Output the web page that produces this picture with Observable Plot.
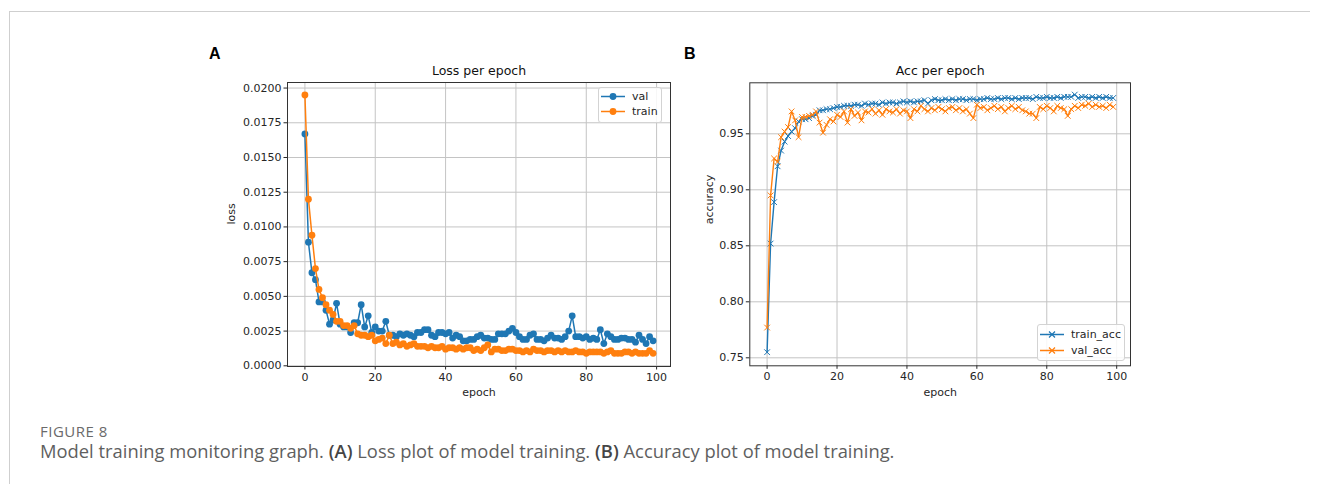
<!DOCTYPE html>
<html><head><meta charset="utf-8">
<script src="https://cdn.jsdelivr.net/npm/d3@7"></script>
<script src="https://cdn.jsdelivr.net/npm/@observablehq/plot@0.6"></script>
<style>
body{margin:0;background:#fff;}
#root{position:relative;width:1322px;height:484px;overflow:hidden;background:#fff;}
.abs{position:absolute;}
.letter{font-family:"Liberation Sans",Arial,sans-serif;font-weight:bold;font-size:16px;color:#000;}
.legend{position:absolute;border:1px solid #d3d3d3;border-radius:3px;background:rgba(255,255,255,0.85);box-sizing:border-box;}
.legend svg{position:absolute;left:0;top:0;}
.figlabel{font-family:"Open Sans",Lato,sans-serif;font-size:15px;color:#6a6a6a;letter-spacing:0.5px;white-space:nowrap;}
.caption{font-family:"Open Sans",Lato,sans-serif;font-size:18px;color:#5f5f5f;white-space:nowrap;transform:scaleX(1.02);transform-origin:left top;}
.caption b{color:#454545;font-weight:600;}
</style></head><body><div id="root"></div>
<script>
// ---------- data ----------
const epochs = d3.range(100);
const valLoss = [
 0.0167,0.0089,0.0067,0.0062,0.0046,0.0046,0.0040,0.0030,0.0033,0.0045,
 0.0030,0.0028,0.0028,0.0024,0.0031,0.0031,0.0044,0.0028,0.0036,0.0024,
 0.0028,0.0025,0.0025,0.0032,0.0022,0.0022,0.0021,0.0023,0.0022,0.0023,
 0.0022,0.0021,0.0024,0.0024,0.0026,0.0026,0.0022,0.0021,0.0024,0.0024,
 0.0023,0.0024,0.0020,0.0022,0.0021,0.0018,0.0018,0.0019,0.0019,0.0021,
 0.0022,0.0020,0.0020,0.0019,0.0019,0.0023,0.0023,0.0023,0.0025,0.0027,
 0.0024,0.0021,0.0019,0.0019,0.0022,0.0023,0.0019,0.0019,0.0018,0.0020,
 0.0022,0.0020,0.0020,0.0019,0.0021,0.0025,0.0036,0.0021,0.0021,0.0020,
 0.0021,0.0019,0.0020,0.0019,0.0026,0.0016,0.0023,0.0021,0.0019,0.0019,
 0.0020,0.0020,0.0019,0.0019,0.0017,0.0022,0.0019,0.0016,0.0021,0.0018];
const trainLoss = [
 0.0195,0.0120,0.0094,0.0070,0.0055,0.0049,0.0044,0.0040,0.0037,0.0032,
 0.0032,0.0029,0.0029,0.0027,0.0029,0.0023,0.0022,0.0022,0.0021,0.0022,
 0.0018,0.0019,0.0020,0.0016,0.0022,0.0016,0.0017,0.0015,0.0016,0.0014,
 0.0015,0.0016,0.0014,0.0014,0.0014,0.0013,0.0014,0.0013,0.0013,0.0014,
 0.0012,0.0013,0.0013,0.0012,0.0013,0.0012,0.0013,0.0013,0.0011,0.0012,
 0.0011,0.0013,0.0015,0.0010,0.0012,0.0012,0.0011,0.0011,0.0012,0.0012,
 0.0011,0.0011,0.0010,0.0011,0.0010,0.0012,0.0011,0.0011,0.0010,0.0011,
 0.0011,0.0010,0.0011,0.0010,0.0011,0.0010,0.0010,0.0011,0.0010,0.0010,
 0.0009,0.0010,0.0010,0.0010,0.0010,0.0009,0.0010,0.0011,0.0009,0.0009,
 0.0009,0.0010,0.0010,0.0009,0.0010,0.0009,0.0009,0.0009,0.0011,0.0009];
const trainAcc = [
 0.755,0.852,0.889,0.921,0.935,0.943,0.948,0.952,0.955,0.961,
 0.963,0.963,0.964,0.966,0.967,0.971,0.971,0.972,0.972,0.973,
 0.974,0.974,0.975,0.975,0.975,0.976,0.976,0.975,0.977,0.976,
 0.977,0.977,0.976,0.978,0.977,0.978,0.978,0.977,0.978,0.979,
 0.978,0.979,0.978,0.979,0.979,0.980,0.977,0.980,0.981,0.980,
 0.980,0.981,0.980,0.981,0.980,0.981,0.981,0.980,0.981,0.981,
 0.980,0.981,0.981,0.982,0.981,0.981,0.982,0.981,0.982,0.982,
 0.981,0.982,0.981,0.982,0.982,0.982,0.981,0.983,0.982,0.982,
 0.983,0.982,0.982,0.983,0.982,0.983,0.983,0.983,0.985,0.982,
 0.983,0.983,0.982,0.983,0.982,0.983,0.982,0.983,0.982,0.982];
const valAcc = [
 0.777,0.895,0.928,0.925,0.947,0.952,0.956,0.970,0.962,0.947,
 0.965,0.965,0.966,0.967,0.970,0.960,0.951,0.958,0.963,0.961,
 0.967,0.965,0.970,0.960,0.972,0.966,0.969,0.962,0.970,0.969,
 0.972,0.968,0.971,0.967,0.972,0.970,0.969,0.972,0.968,0.971,
 0.970,0.964,0.972,0.970,0.975,0.972,0.970,0.973,0.971,0.974,
 0.972,0.970,0.973,0.974,0.971,0.973,0.970,0.972,0.968,0.964,
 0.976,0.973,0.974,0.971,0.973,0.975,0.972,0.974,0.970,0.973,
 0.975,0.972,0.974,0.971,0.970,0.968,0.968,0.964,0.974,0.972,
 0.975,0.973,0.970,0.975,0.973,0.972,0.966,0.972,0.975,0.973,
 0.976,0.975,0.977,0.974,0.976,0.974,0.975,0.973,0.976,0.974];
const xTicks = [0,20,40,60,80,100];
const lossTicks = [0,0.0025,0.005,0.0075,0.01,0.0125,0.015,0.0175,0.02];
const accTicks = [0.75,0.80,0.85,0.90,0.95];
const lossSeries = ["val","train"];
const accSeries = ["train_acc","val_acc"];
const titles = ["Loss per epoch","Acc per epoch"];

// ---------- styles ----------
const BLUE = "#1f77b4", ORANGE = "#ff7f0e";
const GRID = "#c4c4c4", INK = "#262626";
const lossRows = epochs.map(i => ({epoch:i, val:valLoss[i], train:trainLoss[i]}));
const accRows = epochs.map(i => ({epoch:i, train_acc:trainAcc[i], val_acc:valAcc[i]}));

const root = document.getElementById("root");
const plotStyle = {fontFamily:"DejaVu Sans", fontSize:"11px", color:INK, background:"transparent", overflow:"visible"};

function common(xLabel, yLabel, yTicks, yFmt, title, labelDx){
  return [
    Plot.gridX(xTicks, {stroke:GRID, strokeOpacity:1, strokeWidth:1}),
    Plot.gridY(yTicks, {stroke:GRID, strokeOpacity:1, strokeWidth:1}),
    Plot.axisX(xTicks, {tickSize:3.5, tickPadding:3, label:null, stroke:INK, fill:INK}),
    Plot.axisY(yTicks, {tickSize:3.5, tickPadding:2.5, tickFormat:yFmt, label:null, stroke:INK, fill:INK}),
    Plot.text([xLabel], {frameAnchor:"bottom", lineAnchor:"middle", dy:26.3, text:d=>d, fill:INK, fontSize:11}),
    Plot.text([yLabel], {frameAnchor:"left", lineAnchor:"middle", dx:labelDx, rotate:-90, text:d=>d, fill:INK, fontSize:11}),
    Plot.text([title], {frameAnchor:"top", lineAnchor:"middle", dy:-11.5, text:d=>d, fill:"#111", fontSize:12.5})
  ];
}

const plotA = Plot.plot({
  width:480, height:345, marginLeft:87, marginRight:10, marginTop:22, marginBottom:39,
  style:plotStyle,
  x:{domain:[-4.95,103.95]},
  y:{domain:[-0.00005,0.0204]},
  marks:[
    ...common("epoch","loss",lossTicks,d3.format(".4f"),titles[0],-56),
    Plot.line(lossRows,{x:"epoch",y:lossSeries[0],stroke:BLUE,strokeWidth:1.5}),
    Plot.dot(lossRows,{x:"epoch",y:lossSeries[0],r:3.4,fill:BLUE,stroke:null}),
    Plot.line(lossRows,{x:"epoch",y:lossSeries[1],stroke:ORANGE,strokeWidth:1.5}),
    Plot.dot(lossRows,{x:"epoch",y:lossSeries[1],r:3.4,fill:ORANGE,stroke:null}),
    Plot.frame({stroke:"#333",strokeWidth:1})
  ]
});
plotA.style.position="absolute"; plotA.style.left="200px"; plotA.style.top="60px";
root.appendChild(plotA);

const plotB = Plot.plot({
  width:460, height:345, marginLeft:69.3, marginRight:10, marginTop:22.3, marginBottom:39.7,
  style:plotStyle,
  x:{domain:[-4.95,103.95]},
  y:{domain:[0.74286,0.99554]},
  marks:[
    ...common("epoch","accuracy",accTicks,d3.format(".2f"),titles[1],-40),
    Plot.line(accRows,{x:"epoch",y:accSeries[0],stroke:BLUE,strokeWidth:1.4}),
    Plot.dot(accRows,{x:"epoch",y:accSeries[0],r:2.7,symbol:"times",stroke:BLUE,strokeWidth:1}),
    Plot.line(accRows,{x:"epoch",y:accSeries[1],stroke:ORANGE,strokeWidth:1.4}),
    Plot.dot(accRows,{x:"epoch",y:accSeries[1],r:2.7,symbol:"times",stroke:ORANGE,strokeWidth:1}),
    Plot.frame({stroke:"#333",strokeWidth:1})
  ]
});
plotB.style.position="absolute"; plotB.style.left="680px"; plotB.style.top="60px";
root.appendChild(plotB);

// ---------- legends ----------
function legend(left, topPx, w, h, names, colors, marker, rowY){
  const div = document.createElement("div");
  div.className = "legend";
  Object.assign(div.style,{left:left+"px",top:topPx+"px",width:w+"px",height:h+"px"});
  const ns="http://www.w3.org/2000/svg";
  const svg=document.createElementNS(ns,"svg");
  svg.setAttribute("width",w); svg.setAttribute("height",h);
  names.forEach((n,i)=>{
    const y=rowY[i];
    const ln=document.createElementNS(ns,"line");
    ln.setAttribute("x1",2);ln.setAttribute("x2",26);ln.setAttribute("y1",y);ln.setAttribute("y2",y);
    ln.setAttribute("stroke",colors[i]);ln.setAttribute("stroke-width",1.5);svg.appendChild(ln);
    if(marker==="circle"){
      const c=document.createElementNS(ns,"circle");
      c.setAttribute("cx",14);c.setAttribute("cy",y);c.setAttribute("r",3.4);c.setAttribute("fill",colors[i]);svg.appendChild(c);
    } else {
      const p=document.createElementNS(ns,"path");
      p.setAttribute("d",`M${11},${y-3}L${17},${y+3}M${11},${y+3}L${17},${y-3}`);
      p.setAttribute("stroke",colors[i]);p.setAttribute("stroke-width",1.2);svg.appendChild(p);
    }
    const t=document.createElementNS(ns,"text");
    t.setAttribute("x",33);t.setAttribute("y",y);t.setAttribute("dy","0.35em");
    t.setAttribute("font-family","DejaVu Sans");t.setAttribute("font-size","11");t.setAttribute("fill",INK);
    t.textContent=n;svg.appendChild(t);
  });
  div.appendChild(svg);
  root.appendChild(div);
}
legend(598,87,64,36,lossSeries,[BLUE,ORANGE],"circle",[8.5,23.5]);
legend(1037,324,88,37,accSeries,[BLUE,ORANGE],"times",[9.5,25.5]);

// ---------- texts ----------
function addHTML(cls, left, topPx, html){
  const d=document.createElement("div"); d.className="abs "+cls;
  d.style.left=left+"px"; d.style.top=topPx+"px"; d.innerHTML=html; root.appendChild(d); return d;
}
addHTML("letter",209,45,"A");
addHTML("letter",684,45,"B");
addHTML("figlabel",40,421,"FIGURE 8");
addHTML("caption",40,439,'Model training monitoring graph. <b>(A)</b> Loss plot of model training. <b>(B)</b> Accuracy plot of model training.');

// border lines
const borderTop = document.createElement("div");
Object.assign(borderTop.style,{position:"absolute",left:"9px",top:"11px",width:"1301px",height:"1px",background:"#cfcfcf"});
root.appendChild(borderTop);
const borderLeft = document.createElement("div");
Object.assign(borderLeft.style,{position:"absolute",left:"9px",top:"11px",width:"1px",height:"473px",background:"#cfcfcf"});
root.appendChild(borderLeft);
</script>
</body></html>
